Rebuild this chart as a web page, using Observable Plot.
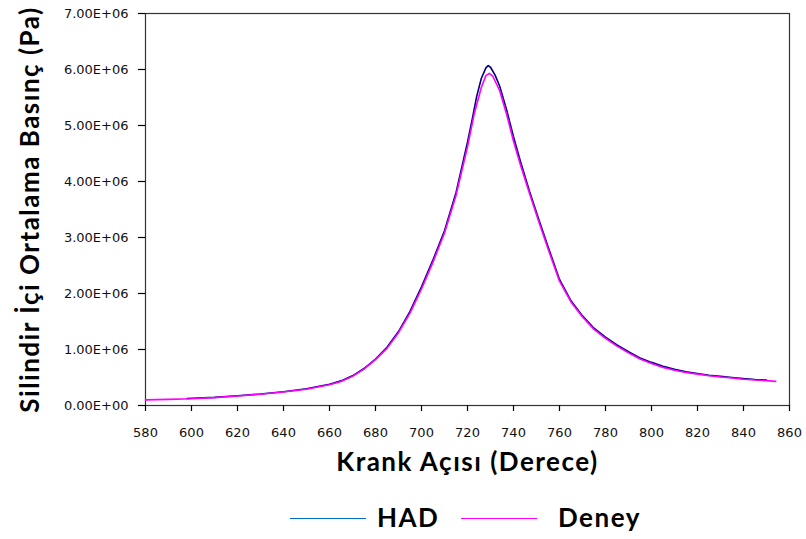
<!DOCTYPE html>
<html>
<head>
<meta charset="utf-8">
<script src="https://cdn.jsdelivr.net/npm/d3@7"></script>
<script src="https://cdn.jsdelivr.net/npm/@observablehq/plot@0.6"></script>
<style>
  body { margin: 0; background: #fff; }
  #legend { position: relative; height: 49px; width: 806px; font-family: Lato, "Open Sans", sans-serif; font-weight: bold; font-size: 26px; letter-spacing: 1.5px; color: #000; }
  #legend .sw { position: absolute; top: 28px; height: 0; width: 76px; border-top: 1.5px solid; }
  #legend .lb { position: absolute; top: 12px; line-height: 30px; white-space: nowrap; }
  #chart svg g[aria-label="text"] text { letter-spacing: 1.5px; }
  #chart svg g[aria-label$="tick label"] text { font-size: 13px; font-family: "DejaVu Sans", sans-serif; }
</style>
</head>
<body>
<div id="chart"></div>
<div id="legend"></div>
<script>
// Crank angle (degrees) and mean cylinder pressure (Pa)
const deneyAngle = [580, 590, 600, 610, 620, 630, 640, 650, 660, 665, 670, 675, 680, 685, 690, 695, 700, 705, 710, 715, 720, 723, 726, 728, 729.5, 731, 734, 737, 740, 743, 747, 751, 755, 760, 765, 770, 775, 780, 785, 790, 795, 800, 805, 810, 815, 820, 825, 830, 835, 840, 845, 850, 854];
const deneyP = [0.10e6, 0.11e6, 0.12e6, 0.14e6, 0.17e6, 0.20e6, 0.24e6, 0.29e6, 0.37e6, 0.43e6, 0.52e6, 0.65e6, 0.82e6, 1.02e6, 1.30e6, 1.65e6, 2.08e6, 2.56e6, 3.08e6, 3.75e6, 4.62e6, 5.22e6, 5.68e6, 5.89e6, 5.93e6, 5.88e6, 5.62e6, 5.20e6, 4.72e6, 4.30e6, 3.78e6, 3.28e6, 2.80e6, 2.22e6, 1.85e6, 1.58e6, 1.36e6, 1.20e6, 1.06e6, 0.94e6, 0.83e6, 0.75e6, 0.68e6, 0.63e6, 0.59e6, 0.56e6, 0.53e6, 0.51e6, 0.49e6, 0.47e6, 0.455e6, 0.445e6, 0.43e6];

const hadAngle = [598, 610, 620, 630, 640, 650, 660, 665, 670, 675, 680, 685, 690, 695, 700, 705, 710, 715, 720, 722, 724, 726, 728, 729, 730, 732, 734, 737, 740, 743, 747, 751, 755, 760, 765, 770, 775, 780, 785, 790, 795, 800, 805, 810, 815, 820, 825, 830, 835, 840, 845, 850];
const hadP = [0.125e6, 0.145e6, 0.175e6, 0.205e6, 0.245e6, 0.30e6, 0.38e6, 0.44e6, 0.53e6, 0.66e6, 0.83e6, 1.04e6, 1.32e6, 1.68e6, 2.12e6, 2.60e6, 3.12e6, 3.80e6, 4.70e6, 5.10e6, 5.52e6, 5.84e6, 6.03e6, 6.07e6, 6.04e6, 5.90e6, 5.70e6, 5.28e6, 4.80e6, 4.36e6, 3.82e6, 3.32e6, 2.84e6, 2.25e6, 1.87e6, 1.60e6, 1.38e6, 1.22e6, 1.08e6, 0.96e6, 0.85e6, 0.77e6, 0.70e6, 0.645e6, 0.60e6, 0.57e6, 0.54e6, 0.52e6, 0.50e6, 0.48e6, 0.465e6, 0.455e6];

const xTicks = [580, 600, 620, 640, 660, 680, 700, 720, 740, 760, 780, 800, 820, 840, 860];
const yTicks = [0, 1e6, 2e6, 3e6, 4e6, 5e6, 6e6, 7e6];

const xLabel = "Krank Açısı (Derece)";
const yLabel = "Silindir İçi Ortalama Basınç (Pa)";
const seriesNames = ["HAD", "Deney"];
const seriesColors = ["#000080", "#ff00ff"];
const legendColors = ["#0070c0", "#ff00ff"];

const deney = deneyAngle.map((a, i) => ({angle: a, p: deneyP[i]}));
const had = hadAngle.map((a, i) => ({angle: a, p: hadP[i]}));

const fmtY = d => d === 0 ? "0.00E+00" : (d / 1e6).toFixed(2) + "E+06";

const chart = Plot.plot({
  width: 806,
  height: 490,
  marginLeft: 145,
  marginRight: 17,
  marginTop: 13,
  marginBottom: 85,
  style: {fontFamily: "DejaVu Sans", fontSize: "13px", color: "#111", background: "#fff"},
  x: {domain: [580, 860]},
  y: {domain: [0, 7e6]},
  marks: [
    Plot.frame({stroke: "#333", strokeWidth: 1.2}),
    Plot.axisX({ticks: xTicks, tickSize: 6, tickPadding: 16, label: null, stroke: "#000", strokeWidth: 1.2}),
    Plot.axisY({ticks: yTicks, tickSize: 7, tickPadding: 10, tickFormat: fmtY, label: null, stroke: "#000", strokeWidth: 1.2}),
    Plot.line(had, {x: "angle", y: "p", stroke: seriesColors[0], strokeWidth: 1.6}),
    Plot.line(deney, {x: "angle", y: "p", stroke: seriesColors[1], strokeWidth: 1.6}),
    Plot.text([xLabel], {text: d => d, frameAnchor: "bottom", dy: 65, fontSize: 26, fontWeight: "bold", fontFamily: "Lato", fill: "#000"}),
    Plot.text([yLabel], {text: d => d, frameAnchor: "left", textAnchor: "middle", dx: -115, rotate: -90, fontSize: 26, fontWeight: "bold", fontFamily: "Lato", fill: "#000"})
  ]
});
document.getElementById("chart").appendChild(chart);

const legend = document.getElementById("legend");
const swX = [290, 461];
const lbX = [377, 558];
seriesNames.forEach((name, i) => {
  const sw = document.createElement("div");
  sw.className = "sw";
  sw.style.left = swX[i] + "px";
  sw.style.borderTopColor = legendColors[i];
  legend.appendChild(sw);
  const lb = document.createElement("div");
  lb.className = "lb";
  lb.style.left = lbX[i] + "px";
  lb.textContent = name;
  legend.appendChild(lb);
});
</script>
</body>
</html>
